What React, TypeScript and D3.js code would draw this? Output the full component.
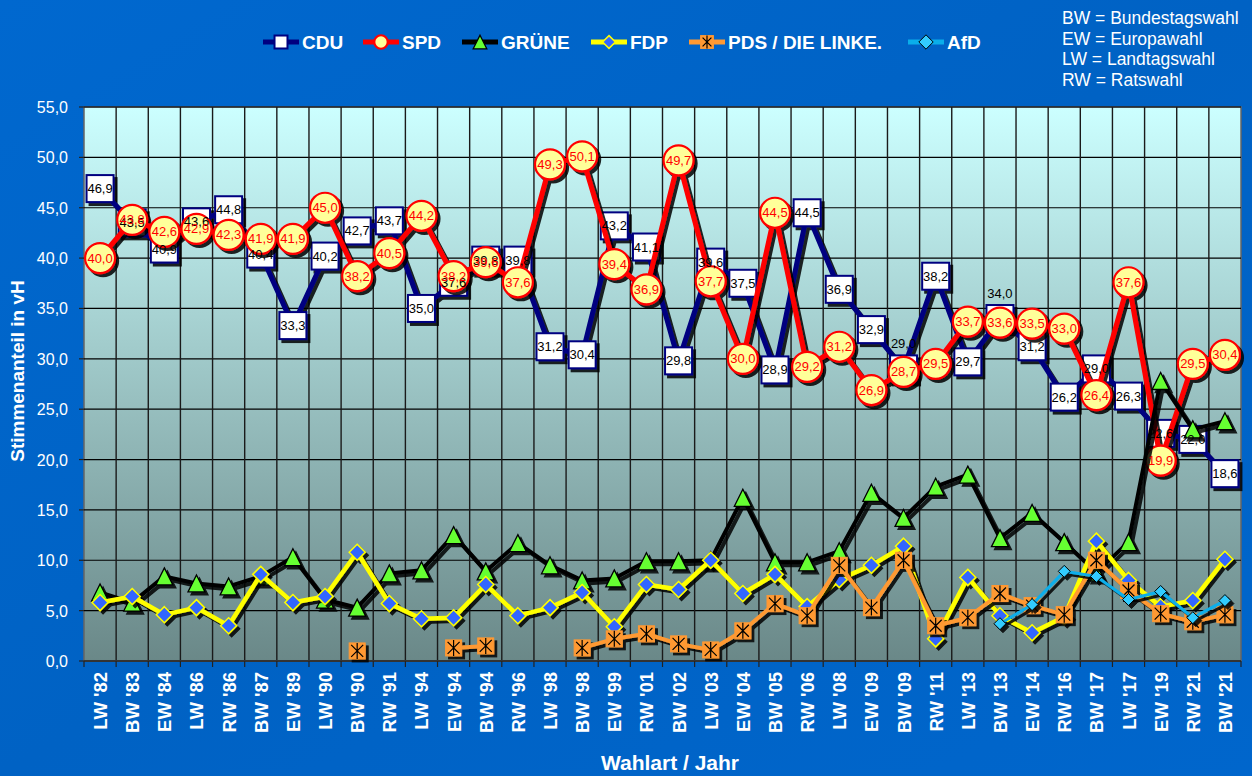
import React from "react";
import * as d3 from "d3";

const categories = ["LW '82","BW '83","EW '84","LW '86","RW '86","BW '87","EW '89","LW '90","BW '90","RW '91","LW '94","EW '94","BW '94","RW '96","LW '98","BW '98","EW '99","RW '01","BW '02","LW '03","EW '04","BW '05","RW '06","LW '08","EW '09","BW '09","RW '11","LW '13","BW '13","EW '14","RW '16","BW '17","LW '17","EW '19","RW '21","BW '21"];

const cdu = [46.9,43.5,40.9,43.6,44.8,40.4,33.3,40.2,42.7,43.7,35.0,37.6,39.8,39.8,31.2,30.4,43.2,41.1,29.8,39.6,37.5,28.9,44.5,36.9,32.9,29.0,38.2,29.7,34.0,31.2,26.2,29.0,26.3,22.6,22.0,18.6];
const spd = [40.0,43.8,42.6,42.9,42.3,41.9,41.9,45.0,38.2,40.5,44.2,38.2,39.6,37.6,49.3,50.1,39.4,36.9,49.7,37.7,30.0,44.5,29.2,31.2,26.9,28.7,29.5,33.7,33.6,33.5,33.0,26.4,37.6,19.9,29.5,30.4];
const gruene = [6.8,5.8,8.4,7.7,7.4,8.4,10.3,6.1,5.3,8.7,9.0,12.5,8.9,11.7,9.5,8.0,8.2,9.9,9.9,10.0,16.2,9.8,9.8,10.9,16.7,14.2,17.3,18.5,12.2,14.7,11.8,8.8,11.8,27.8,23.0,23.8];
const fdp = [5.8,6.4,4.6,5.3,3.5,8.6,5.8,6.4,10.8,5.7,4.2,4.3,7.6,4.5,5.3,6.8,3.4,7.6,7.1,10.0,6.7,8.6,5.4,8.1,9.5,11.4,2.2,8.3,4.5,2.8,4.4,11.9,8.0,5.4,6.0,10.1];
const linke: (number | null)[] = [null,null,null,null,null,null,null,null,1.0,null,null,1.3,1.5,null,null,1.3,2.2,2.7,1.7,1.1,3.0,5.7,4.5,9.5,5.3,10.0,3.5,4.3,6.7,5.5,4.6,10.0,7.0,4.7,3.9,4.6];
const afd: (number | null)[] = [null,null,null,null,null,null,null,null,null,null,null,null,null,null,null,null,null,null,null,null,null,null,null,null,null,null,null,null,3.7,5.6,8.9,8.4,6.1,6.9,4.3,6.0];

const yTicks = [0,5,10,15,20,25,30,35,40,45,50,55];
const legendNames = ["CDU","SPD","GRÜNE","FDP","PDS / DIE LINKE.","AfD"];
const notes = ["BW = Bundestagswahl","EW = Europawahl","LW = Landtagswahl","RW = Ratswahl"];
// CDU labels drawn above the marker (overlapped positions)
const cduLabelAbove = [25, 28];

const FONT = "'Liberation Sans', Arial, Helvetica, sans-serif";
const fmt = (v: number) => v.toFixed(1).replace(".", ",");

const W = 1252, H = 776;
const L = 84, R = 1241, T = 107, B = 661;

type Mk = "square" | "circle" | "triangle" | "diamond" | "star" | "sdiamond";

function Marker({ kind, x, y, s = 1 }: { kind: Mk; x: number; y: number; s?: number }) {
  if (kind === "square") {
    const w = 27 * s;
    return <rect x={x - w / 2} y={y - w / 2} width={w} height={w} fill="#fff" stroke="#000080" strokeWidth={2} />;
  }
  if (kind === "circle") {
    return <circle cx={x} cy={y} r={15 * s} fill="#FFFF99" stroke="#FF0000" strokeWidth={2.2} />;
  }
  if (kind === "triangle") {
    const w = 17 * s, h = 17 * s;
    return <path d={`M${x},${y - h / 2}L${x + w / 2},${y + h / 2}L${x - w / 2},${y + h / 2}Z`} fill="#66FF33" stroke="#000" strokeWidth={1.3} />;
  }
  if (kind === "diamond") {
    const r = 8 * s;
    return <path d={`M${x},${y - r}L${x + r},${y}L${x},${y + r}L${x - r},${y}Z`} fill="#3366FF" stroke="#FFFF00" strokeWidth={1.5} />;
  }
  if (kind === "sdiamond") {
    const r = 6 * s;
    return <path d={`M${x},${y - r}L${x + r},${y}L${x},${y + r}L${x - r},${y}Z`} fill="#33CCFF" stroke="#000" strokeWidth={1} />;
  }
  const w = 16 * s, h = w / 2;
  return (
    <g>
      <rect x={x - h} y={y - h} width={w} height={w} fill="#FF9933" stroke="#FF9933" strokeWidth={1} />
      <path d={`M${x},${y - h}L${x},${y + h}M${x - h + 2},${y - h + 2}L${x + h - 2},${y + h - 2}M${x + h - 2},${y - h + 2}L${x - h + 2},${y + h - 2}`} stroke="#000" strokeWidth={1.2} />
    </g>
  );
}

export default function App() {
  const x = d3.scaleBand<string>().domain(categories).range([L, R]).paddingInner(0).paddingOuter(0);
  const bw = x.bandwidth();
  const cx = (i: number) => (x(categories[i]) as number) + bw / 2;
  const y = d3.scaleLinear().domain([0, 55]).range([B, T]);

  const series: { name: string; data: (number | null)[]; color: string; width: number; marker: Mk }[] = [
    { name: legendNames[0], data: cdu, color: "#000080", width: 5, marker: "square" },
    { name: legendNames[1], data: spd, color: "#FF0000", width: 5, marker: "circle" },
    { name: legendNames[2], data: gruene, color: "#000000", width: 4, marker: "triangle" },
    { name: legendNames[3], data: fdp, color: "#FFFF00", width: 4.5, marker: "diamond" },
    { name: legendNames[4], data: linke, color: "#FF9933", width: 4, marker: "star" },
    { name: legendNames[5], data: afd, color: "#0AAEEA", width: 3, marker: "sdiamond" },
  ];

  const line = d3.line<number | null>()
    .defined((d) => d != null)
    .x((_, i) => cx(i))
    .y((d) => y(d as number));

  const legendX = [263, 363, 462, 591, 689, 908];

  return (
    <svg width={W} height={H} style={{ position: "absolute", left: 0, top: 0, display: "block" }} fontFamily={FONT}>
      <defs>
        <linearGradient id="bg" x1="0" y1="0" x2="1" y2="1">
          <stop offset="0" stopColor="#0068CF" />
          <stop offset="0.5" stopColor="#0062C4" />
          <stop offset="1" stopColor="#0066CC" />
        </linearGradient>
        <linearGradient id="plot" x1="0" y1="0" x2="0" y2="1">
          <stop offset="0" stopColor="#CCFFFF" />
          <stop offset="1" stopColor="#6A8888" />
        </linearGradient>
        <filter id="sh" x="-10%" y="-10%" width="120%" height="120%">
          <feDropShadow dx="3" dy="3" stdDeviation="0.6" floodColor="#000" floodOpacity="0.85" />
        </filter>
      </defs>
      <rect width={W} height={H} fill="url(#bg)" />
      <rect x={L} y={T} width={R - L} height={B - T} fill="url(#plot)" stroke="#666" strokeWidth={1.5} />

      {/* grid */}
      {yTicks.map((t) => (
        <line key={"h" + t} x1={L} x2={R} y1={y(t)} y2={y(t)} stroke="#000" strokeWidth={1.2} />
      ))}
      {categories.map((c, i) => i > 0 && (
        <line key={"v" + c} x1={x(c) as number} x2={x(c) as number} y1={T} y2={B} stroke="#1a1a1a" strokeWidth={1.4} />
      ))}
      {/* axes */}
      <line x1={L} x2={R} y1={B} y2={B} stroke="#333" strokeWidth={2} />
      {categories.map((c, i) => (
        <line key={"xt" + i} x1={x(c) as number} x2={x(c) as number} y1={B} y2={B + 6} stroke="#222" strokeWidth={1.2} />
      ))}
      <line x1={R} x2={R} y1={B} y2={B + 6} stroke="#222" strokeWidth={1.2} />
      {yTicks.map((t) => (
        <g key={"yt" + t}>
          <line x1={L - 5} x2={L} y1={y(t)} y2={y(t)} stroke="#222" strokeWidth={1.2} />
          <text x={68} y={y(t) + 6} textAnchor="end" fill="#fff" fontSize={16}>{fmt(t)}</text>
        </g>
      ))}

      {/* series */}
      {series.map((s) => (
        <g key={s.name} filter="url(#sh)">
          <path d={line(s.data) || ""} fill="none" stroke={s.color} strokeWidth={s.width} strokeLinejoin="round" />
          {s.data.map((v, i) => v == null ? null : <Marker key={i} kind={s.marker} x={cx(i)} y={y(v)} />)}
        </g>
      ))}

      {/* data labels */}
      {cdu.map((v, i) => (
        <text key={"lc" + i} x={cx(i)} y={y(v) + 4.5 - (cduLabelAbove.includes(i) ? 25 : 0)} textAnchor="middle" fontSize={13} fill="#000">{fmt(v)}</text>
      ))}
      {spd.map((v, i) => (
        <text key={"ls" + i} x={cx(i)} y={y(v) + 4.5} textAnchor="middle" fontSize={13} fill="#FF0000">{fmt(v)}</text>
      ))}

      {/* x labels */}
      {categories.map((c, i) => (
        <text key={"xl" + i} transform={`translate(${cx(i) + 7},672) rotate(-90)`} textAnchor="end" fill="#fff" fontWeight="bold" fontSize={18.5}>{c}</text>
      ))}
      <text x={670} y={770} textAnchor="middle" fill="#fff" fontWeight="bold" fontSize={21}>Wahlart / Jahr</text>
      <text transform="translate(24,371) rotate(-90)" textAnchor="middle" fill="#fff" fontWeight="bold" fontSize={19}>Stimmenanteil in vH</text>

      {/* legend */}
      {series.map((s, i) => (
        <g key={"lg" + i}>
          <line x1={legendX[i]} x2={legendX[i] + 36} y1={42} y2={42} stroke={s.color} strokeWidth={5} />
          <Marker kind={s.marker} x={legendX[i] + 18} y={42} s={s.marker === "square" ? 0.48 : s.marker === "circle" ? 0.45 : s.marker === "sdiamond" ? 1.2 : 0.8} />
          <text x={legendX[i] + 39} y={49} fill="#fff" fontWeight="bold" fontSize={19}>{s.name}</text>
        </g>
      ))}
      {notes.map((n, i) => (
        <text key={"n" + i} x={1062} y={24 + i * 20.6} fill="#fff" fontSize={17.5}>{n}</text>
      ))}
    </svg>
  );
}
